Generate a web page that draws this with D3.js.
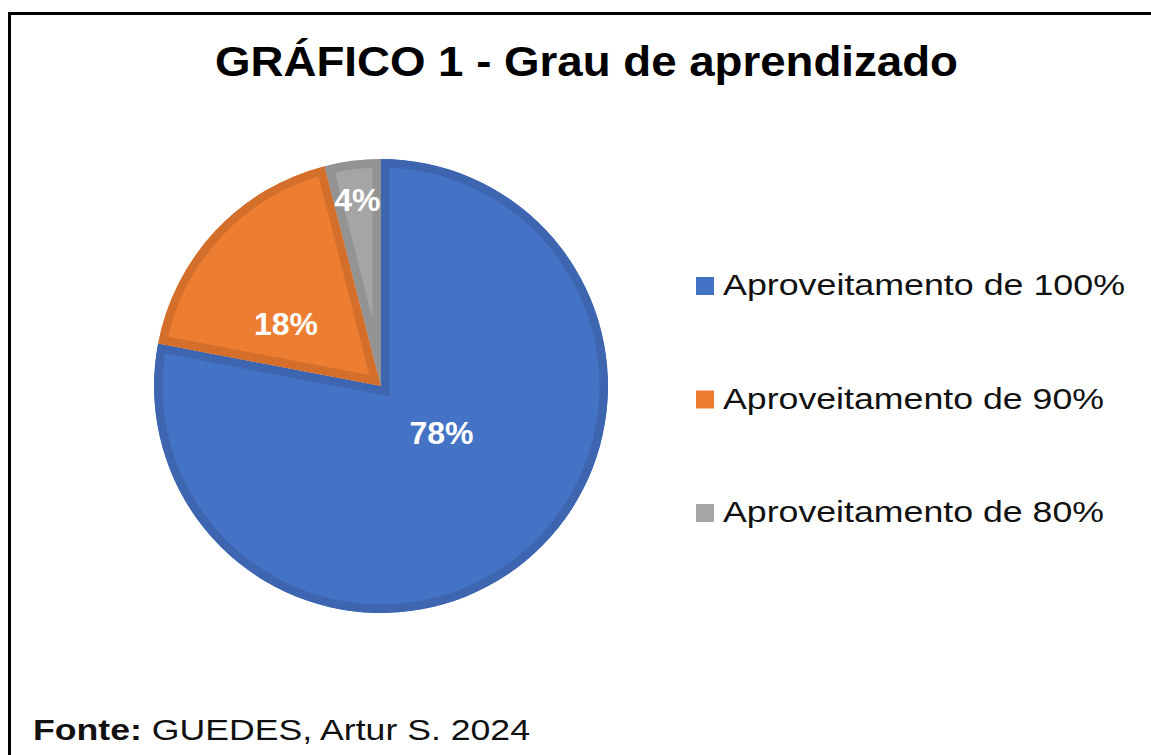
<!DOCTYPE html>
<html lang='pt'>

<head>
    <meta charset='UTF-8'>
    <title>Grau de aprendizado</title>
    <script src='https://d3js.org/d3.v7.min.js' charset='utf-8'></script>
    <style>
        body {
            margin: 0px;
            overflow: hidden;
            background: white;
            font-family: 'Liberation Sans', Arial, sans-serif;
        }
    </style>
</head>

<body>
    <div id='chart'></div>
    <script>
        'use strict';

        const categories = ['Aproveitamento de 100%', 'Aproveitamento de 90%', 'Aproveitamento de 80%'];
        const values = [78, 18, 4];
        const valueLabels = ['78%', '18%', '4%'];

        const fills = ['#4472c4', '#ed7d31', '#a5a5a5'];
        const edges = ['#3d65b0', '#d46f2b', '#939393'];
        // label placement: distance as share of radius, and angle nudge (deg)
        const labelRadius = [0.335, 0.5, 0.83];
        const labelNudge = [-13, -10, 0];

        const width = 1151, height = 755;
        const cx = 381, cy = 386, radius = 227;

        const svg = d3.select('#chart')
            .append('svg')
            .attr('width', width)
            .attr('height', height);

        // frame (open at right and bottom, as cropped)
        svg.append('path')
            .attr('d', `M9.5,${height + 5} V13.5 H${width + 5}`)
            .attr('fill', 'none')
            .attr('stroke', 'black')
            .attr('stroke-width', 3);

        svg.append('text')
            .attr('x', 586.5)
            .attr('y', 76)
            .attr('text-anchor', 'middle')
            .attr('font-size', '42px')
            .attr('font-weight', 'bold')
            .attr('textLength', 743)
            .attr('lengthAdjust', 'spacingAndGlyphs')
            .text('GRÁFICO 1 - Grau de aprendizado');

        const pie = d3.pie().sort(null).value(d => d.value);
        const arcs = pie(values.map((v, i) => ({ value: v, i: i })));
        const arc = d3.arc().innerRadius(0).outerRadius(radius);

        const g = svg.append('g').attr('transform', `translate(${cx}, ${cy})`);

        const defs = svg.append('defs');
        arcs.forEach((a, i) => {
            defs.append('clipPath')
                .attr('id', 'clip' + i)
                .append('path')
                .attr('d', arc(a));
        });

        g.selectAll('path.slice')
            .data(arcs)
            .enter()
            .append('path')
            .attr('class', 'slice')
            .attr('d', arc)
            .attr('fill', d => fills[d.data.i])
            .attr('stroke', d => edges[d.data.i])
            .attr('stroke-width', 17)
            .attr('clip-path', d => `url(#clip${d.data.i})`);

        g.selectAll('text.lbl')
            .data(arcs)
            .enter()
            .append('text')
            .attr('class', 'lbl')
            .attr('transform', d => {
                const r = radius * labelRadius[d.data.i];
                const a = (d.startAngle + d.endAngle) / 2 + labelNudge[d.data.i] * Math.PI / 180;
                return `translate(${r * Math.sin(a)}, ${-r * Math.cos(a)})`;
            })
            .attr('text-anchor', 'middle')
            .attr('dy', '0.36em')
            .attr('fill', 'white')
            .attr('font-weight', 'bold')
            .attr('font-size', '32px')
            .text(d => valueLabels[d.data.i]);

        const legend = svg.append('g').attr('transform', 'translate(696, 0)');
        const ly = d3.scalePoint().domain(categories).range([295, 522]);

        legend.selectAll('rect')
            .data(categories)
            .enter()
            .append('rect')
            .attr('x', 0)
            .attr('y', d => ly(d) - 18)
            .attr('width', 18)
            .attr('height', 18)
            .attr('fill', (d, i) => fills[i]);

        legend.selectAll('text')
            .data(categories)
            .enter()
            .append('text')
            .attr('x', 27)
            .attr('y', d => ly(d))
            .attr('font-size', '30px')
            .attr('fill', '#111')
            .attr('textLength', (d, i) => i === 0 ? 402 : 381)
            .attr('lengthAdjust', 'spacingAndGlyphs')
            .text(d => d);

        const src = svg.append('text')
            .attr('x', 33)
            .attr('y', 740)
            .attr('font-size', '29px')
            .attr('fill', '#111')
            .attr('textLength', 497)
            .attr('lengthAdjust', 'spacingAndGlyphs');
        src.append('tspan').attr('font-weight', 'bold').text('Fonte:');
        src.append('tspan').text(' GUEDES, Artur S. 2024');
    </script>
</body>

</html>
